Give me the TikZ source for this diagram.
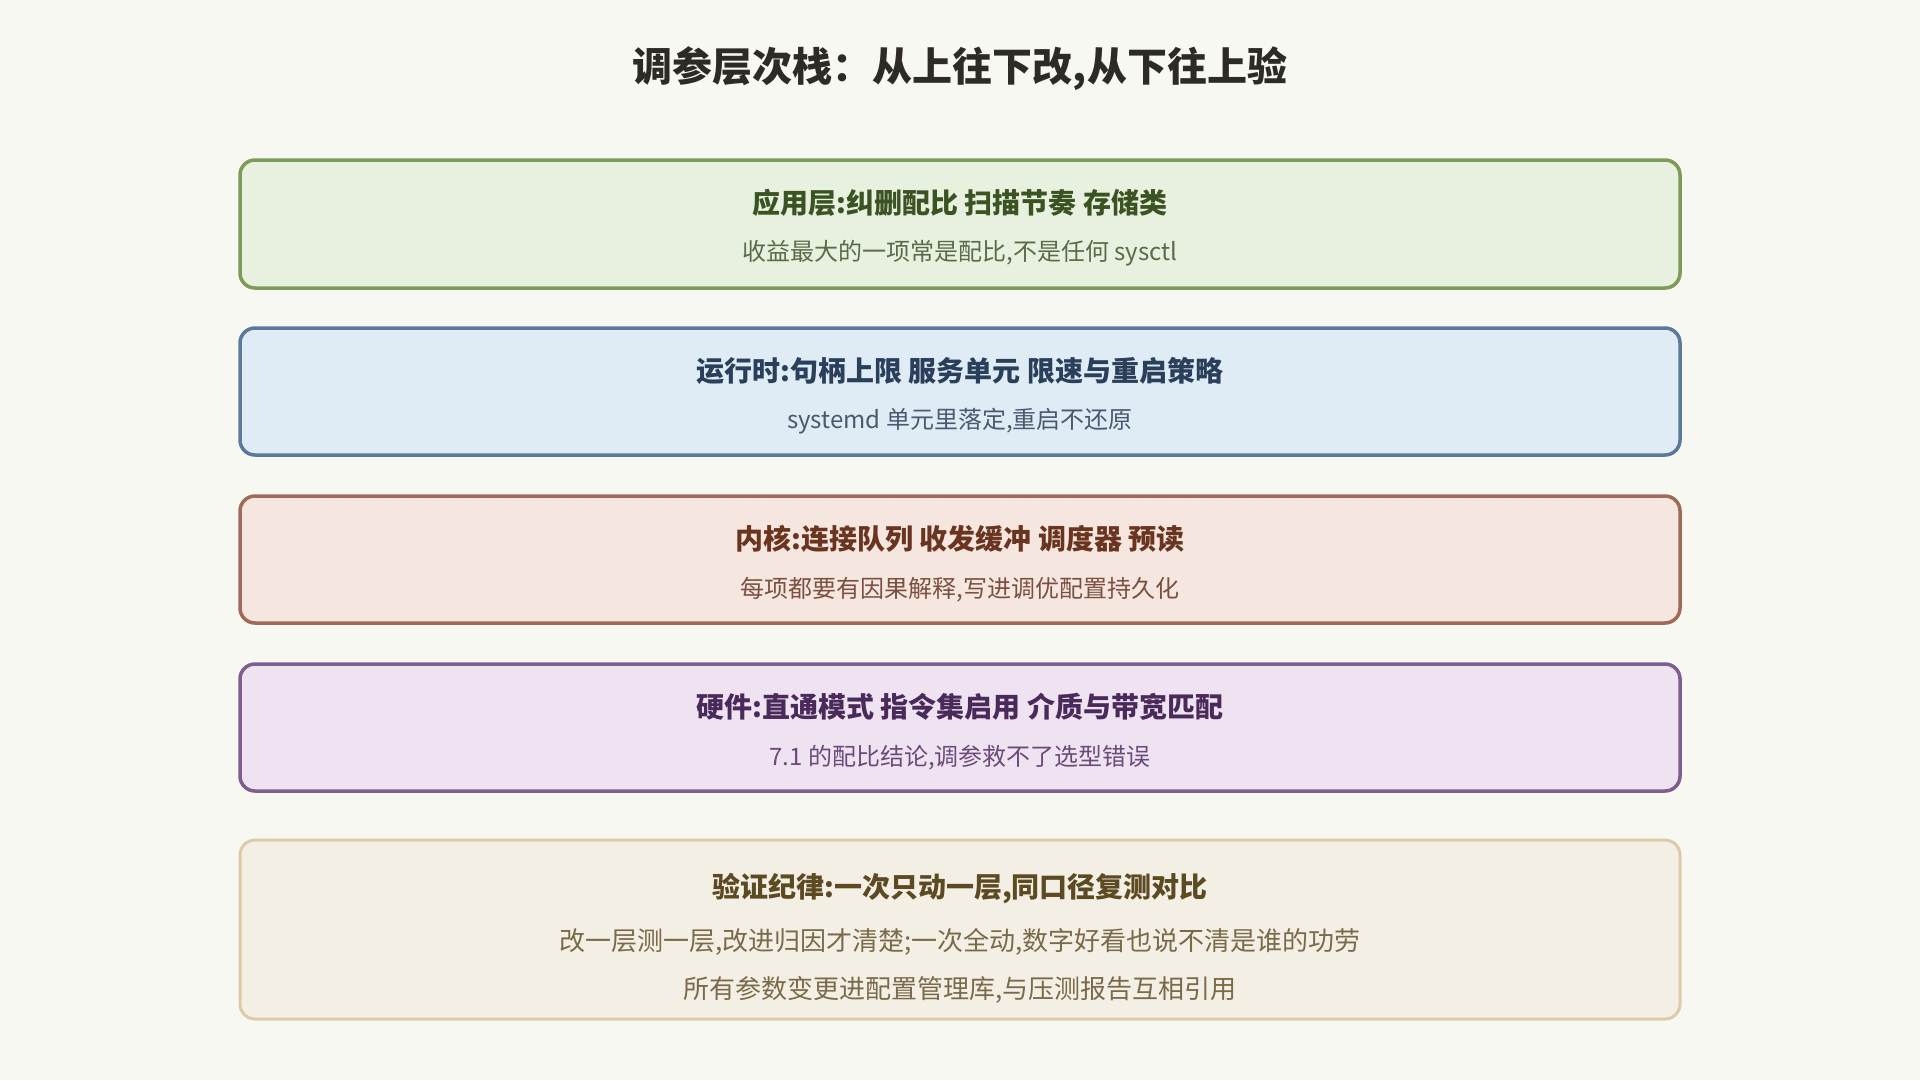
\documentclass[tikz,border=0pt]{standalone}
\usepackage{fontspec}
\setmainfont{Noto Sans CJK SC}
\usetikzlibrary{positioning}
\definecolor{bgc}{HTML}{F8F8F3}
\definecolor{titlec}{HTML}{2E2B26}
\definecolor{fA}{HTML}{E8F0DF}\definecolor{dA}{HTML}{7D9A5A}\definecolor{hA}{HTML}{3B5323}\definecolor{sA}{HTML}{5A6B4A}
\definecolor{fB}{HTML}{DFEBF5}\definecolor{dB}{HTML}{5A7A9A}\definecolor{hB}{HTML}{2A3F5A}\definecolor{sB}{HTML}{4A5A6E}
\definecolor{fC}{HTML}{F5E7E0}\definecolor{dC}{HTML}{A06A58}\definecolor{hC}{HTML}{6A3520}\definecolor{sC}{HTML}{7A5040}
\definecolor{fD}{HTML}{F0E3F1}\definecolor{dD}{HTML}{7D5E8E}\definecolor{hD}{HTML}{4A2A5A}\definecolor{sD}{HTML}{6A4A7A}
\definecolor{fE}{HTML}{F3EFE4}\definecolor{dE}{HTML}{DDCBA8}\definecolor{hE}{HTML}{5C4A22}\definecolor{sE}{HTML}{7A6A4A}
\tikzset{
  layerbox/.style={rectangle, rounded corners=15pt, line width=3.5pt, minimum width=1440pt, inner sep=0pt},
  headtxt/.style={inner sep=0pt, font=\fontsize{28}{33}\selectfont\bfseries},
  subtxt/.style={inner sep=0pt, font=\fontsize{24}{29}\selectfont},
  subtxtbig/.style={inner sep=0pt, font=\fontsize{26}{31}\selectfont},
}
\begin{document}
\begin{tikzpicture}[x=1pt,y=-1pt]
\fill[bgc] (0,0) rectangle (1920,1080);
\useasboundingbox (0,0) rectangle (1920,1080);
\node[inner sep=0pt, text=titlec, font=\fontsize{40}{45}\selectfont\bfseries] (title) at (960,68.5) {调参层次栈：从上往下改,从下往上验};
% layer 1
\node[layerbox, draw=dA, fill=fA, minimum height=128pt] (boxA) at (960,224) {};
\node[headtxt, text=hA] (headA) at (960,203) {应用层:纠删配比 扫描节奏 存储类};
\node[subtxt, text=sA] (subA) at (960,253.5) {收益最大的一项常是配比,不是任何 sysctl};
% layer 2
\node[layerbox, draw=dB, fill=fB, minimum height=127pt] (boxB) at (960,391.5) {};
\node[headtxt, text=hB] (headB) at (960,371) {运行时:句柄上限 服务单元 限速与重启策略};
\node[subtxt, text=sB] (subB) at (960,421.5) {systemd 单元里落定,重启不还原};
% layer 3
\node[layerbox, draw=dC, fill=fC, minimum height=127pt] (boxC) at (960,559.5) {};
\node[headtxt, text=hC] (headC) at (960,539) {内核:连接队列 收发缓冲 调度器 预读};
\node[subtxt, text=sC] (subC) at (960,589.5) {每项都要有因果解释,写进调优配置持久化};
% layer 4
\node[layerbox, draw=dD, fill=fD, minimum height=127pt] (boxD) at (960,727.5) {};
\node[headtxt, text=hD] (headD) at (960,707) {硬件:直通模式 指令集启用 介质与带宽匹配};
\node[subtxt, text=sD] (subD) at (960,757.5) {7.1 的配比结论,调参救不了选型错误};
% verification
\node[layerbox, draw=dE, fill=fE, line width=3pt, minimum height=179pt] (boxE) at (960,929.5) {};
\node[headtxt, text=hE] (headE) at (960,888) {验证纪律:一次只动一层,同口径复测对比};
\node[subtxtbig, text=sE] (subE1) at (960,941.5) {改一层测一层,改进归因才清楚;一次全动,数字好看也说不清是谁的功劳};
\node[subtxtbig, text=sE] (subE2) at (960,989.5) {所有参数变更进配置管理库,与压测报告互相引用};
\end{tikzpicture}
\end{document}
